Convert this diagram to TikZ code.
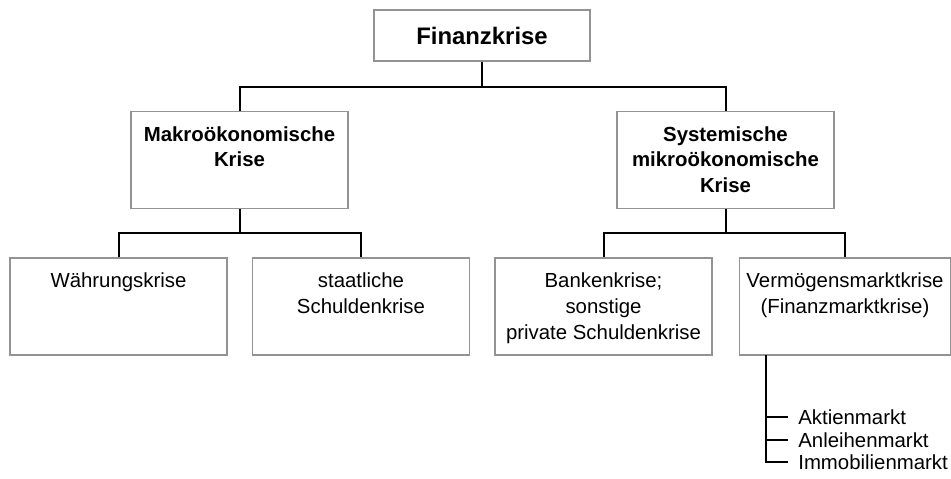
\documentclass[tikz,border=0pt]{standalone}
\usepackage{fontspec}
\setmainfont{Liberation Sans}
\newcommand{\grund}{\fontsize{11.6}{14.6}\selectfont}
\newcommand{\boxtext}[1]{\parbox[t][1.34cm][t]{4.2cm}{\centering #1}}

\begin{document}
\begin{tikzpicture}[x=0.02cm, y=-0.02cm, every node/.style={font=\grund},
  kasten/.style={draw=gray!85, line width=0.03cm, rectangle, inner xsep=0pt, inner ysep=0.3cm, minimum width=4.34cm, minimum height=1.94cm},
  linie/.style={line width=0.04cm},
  markt/.style={anchor=west, inner xsep=0.2cm, inner ysep=0pt}]
\useasboundingbox (0,0) rectangle (951,478);

% Kästen
\node[kasten, inner ysep=0pt, minimum width=4.32cm, minimum height=1.02cm, font=\bfseries\fontsize{13.6}{16}\selectfont] (fin) at (482,35.5) {Finanzkrise};
\node[kasten, minimum height=1.92cm, font=\grund\bfseries] (makro) at (239.5,160) {\boxtext{Makroökonomische\\Krise}};
\node[kasten, minimum height=1.92cm, font=\grund\bfseries] (mikro) at (725.5,160) {\boxtext{Systemische\\mikroökonomische\\Krise}};
\node[kasten] (waehrung) at (118.5,306.5) {\boxtext{Währungskrise}};
\node[kasten] (staat) at (361,306.5) {\boxtext{staatliche\\Schuldenkrise}};
\node[kasten] (bank) at (603.5,306.5) {\boxtext{Bankenkrise;\\sonstige\\private Schuldenkrise}};
\node[kasten, minimum width=4.22cm] (vermoegen) at (845,306.5) {\boxtext{Vermögensmarktkrise\\(Finanzmarktkrise)}};

% Linien
\coordinate (j0) at (482,87);
\coordinate (j1) at (239.5,233);
\coordinate (j2) at (725.5,233);
\draw[linie] (fin.south) -- (j0);
\draw[linie] (makro.north) |- (j0) -| (mikro.north);
\draw[linie] (makro.south) -- (j1);
\draw[linie] (waehrung.north) |- (j1) -| (staat.north);
\draw[linie] (mikro.south) -- (j2);
\draw[linie] (bank.north) |- (j2) -| (vermoegen.north);

% Märkte
\node[markt] (aktien) at (788,417) {Aktienmarkt};
\node[markt] (anleihen) at (788,440) {Anleihenmarkt};
\node[markt] (immo) at (788,462) {Immobilienmarkt};
\coordinate (stamm) at (766,355);
\draw[linie] (stamm) |- (immo.west);
\draw[linie] (stamm |- aktien.west) -- (aktien.west);
\draw[linie] (stamm |- anleihen.west) -- (anleihen.west);
\end{tikzpicture}
\end{document}
